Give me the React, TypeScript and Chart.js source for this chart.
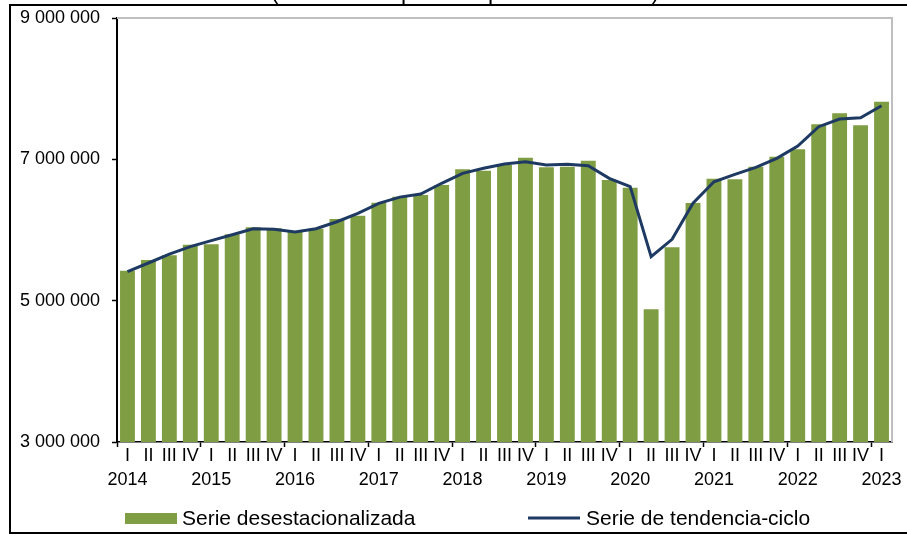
import React, { useEffect, useRef } from 'react';
import { Chart, registerables } from 'chart.js';

Chart.register(...registerables);

const FONT = '"Liberation Sans", Arial, Helvetica, sans-serif';

const TITLE = '(Millones de pesos a precios de 2018)';
const BAR_LABEL = 'Serie desestacionalizada';
const LINE_LABEL = 'Serie de tendencia-ciclo';

const years = ['2014', '2015', '2016', '2017', '2018', '2019', '2020', '2021', '2022', '2023'];
const quarterNames = ['I', 'II', 'III', 'IV'];
const quarterCount = 37;

const seasonallyAdjusted = [
  5424000, 5575000, 5642000, 5792000,
  5797000, 5939000, 6038000, 6024000,
  5976000, 6019000, 6156000, 6203000,
  6386000, 6470000, 6495000, 6637000,
  6859000, 6839000, 6920000, 7023000,
  6887000, 6896000, 6981000, 6707000,
  6599000, 4878000, 5755000, 6382000,
  6726000, 6717000, 6896000, 7037000,
  7141000, 7495000, 7651000, 7481000,
  7815000,
];

const trendCycle = [
  5410000, 5533000, 5660000, 5764000,
  5849000, 5933000, 6018000, 6010000,
  5972000, 6018000, 6117000, 6236000,
  6378000, 6465000, 6509000, 6661000,
  6802000, 6873000, 6934000, 6966000,
  6920000, 6929000, 6910000, 6731000,
  6613000, 5622000, 5868000, 6380000,
  6683000, 6788000, 6887000, 7014000,
  7188000, 7462000, 7571000, 7589000,
  7759000,
];

const yMin = 3000000;
const yMax = 9000000;
const yStep = 2000000;

const BAR_COLOR = '#7F9D42';
const LINE_COLOR = '#1E3A63';

const categoryLabels: string[][] = Array.from({ length: quarterCount }, (_, i) => [
  quarterNames[i % 4],
  i % 4 === 0 ? years[Math.floor(i / 4)] : '',
]);

const fmt = (v: number | string) => String(v).replace(/\B(?=(\d{3})+(?!\d))/g, ' ');

const decorPlugin = {
  id: 'decor',
  beforeDatasetsDraw(chart: any) {
    const { ctx, chartArea: a } = chart;
    ctx.save();
    ctx.strokeStyle = '#BFBFBF';
    ctx.lineWidth = 2;
    ctx.beginPath();
    ctx.moveTo(a.left, a.top);
    ctx.lineTo(a.right, a.top);
    ctx.lineTo(a.right, a.bottom);
    ctx.stroke();
    ctx.restore();
  },
  afterDraw(chart: any) {
    const ctx = chart.ctx;
    ctx.save();
    // title (cut off at the top, as in the reference)
    ctx.fillStyle = '#000';
    ctx.font = `23px ${FONT}`;
    ctx.textAlign = 'center';
    ctx.textBaseline = 'alphabetic';
    ctx.fillText(TITLE, 465, -1.5);
    // outer frame
    ctx.strokeStyle = '#000';
    ctx.lineWidth = 2;
    ctx.strokeRect(10, 5, 1000, 528);
    // legend
    const ds = chart.data.datasets;
    const barDs = ds.find((d: any) => d.type === 'bar');
    const lineDs = ds.find((d: any) => d.type === 'line');
    ctx.font = `21px ${FONT}`;
    ctx.textAlign = 'left';
    ctx.textBaseline = 'alphabetic';
    ctx.fillStyle = barDs.backgroundColor;
    ctx.fillRect(125, 513, 52, 11);
    ctx.fillStyle = '#000';
    ctx.fillText(barDs.label, 182, 525);
    ctx.strokeStyle = lineDs.borderColor;
    ctx.lineWidth = 3;
    ctx.beginPath();
    ctx.moveTo(528, 518);
    ctx.lineTo(580, 518);
    ctx.stroke();
    ctx.fillStyle = '#000';
    ctx.fillText(lineDs.label, 586, 525);
    ctx.restore();
  },
};

export default function App() {
  const ref = useRef<HTMLCanvasElement | null>(null);

  useEffect(() => {
    if (!ref.current) return;
    const chart = new Chart(ref.current, {
      type: 'bar',
      data: {
        labels: categoryLabels,
        datasets: [
          {
            type: 'line',
            label: LINE_LABEL,
            data: trendCycle,
            borderColor: LINE_COLOR,
            backgroundColor: LINE_COLOR,
            borderWidth: 3,
            pointRadius: 0,
            tension: 0,
            order: 0,
          } as any,
          {
            type: 'bar',
            label: BAR_LABEL,
            data: seasonallyAdjusted,
            backgroundColor: BAR_COLOR,
            borderWidth: 0,
            barPercentage: 0.71,
            categoryPercentage: 1,
            order: 1,
          } as any,
        ],
      },
      options: {
        animation: false,
        responsive: false,
        layout: { padding: { top: 18, left: 0, right: 15, bottom: 0 } },
        plugins: {
          legend: { display: false },
          tooltip: { enabled: false },
          title: { display: false },
        },
        scales: {
          x: {
            offset: true,
            grid: {
              display: true,
              offset: true,
              drawOnChartArea: false,
              drawTicks: true,
              tickLength: 5,
              tickWidth: 1.5,
              tickColor: (c: any) => (typeof c.index === 'number' && c.index % 4 === 0 ? '#000' : 'rgba(0,0,0,0)'),
            },
            border: { display: true, color: '#000', width: 1.5 },
            ticks: {
              autoSkip: false,
              maxRotation: 0,
              minRotation: 0,
              color: '#000',
              padding: -3,
              font: { family: FONT, size: 18, lineHeight: '24px' },
            },
            afterFit: (s: any) => {
              s.height = 93;
              s.paddingLeft = 0;
              s.paddingRight = 0;
            },
          } as any,
          y: {
            min: yMin,
            max: yMax,
            grid: {
              drawOnChartArea: false,
              drawTicks: true,
              tickLength: 5,
              tickWidth: 1.5,
              tickColor: '#000',
            },
            border: { display: true, color: '#000', width: 2 },
            ticks: {
              stepSize: yStep,
              color: '#000',
              padding: 12,
              font: { family: FONT, size: 18 },
              callback: (v: any) => fmt(v),
            },
            afterFit: (s: any) => {
              s.width = 117;
              s.paddingTop = 0;
              s.paddingBottom = 0;
            },
          } as any,
        },
      },
      plugins: [decorPlugin],
    });
    return () => chart.destroy();
  }, []);

  return (
    <div style={{ position: 'fixed', left: 0, top: 0, width: 907, height: 535, background: '#fff' }}>
      <canvas ref={ref} width={907} height={535} style={{ display: 'block' }} />
    </div>
  );
}
